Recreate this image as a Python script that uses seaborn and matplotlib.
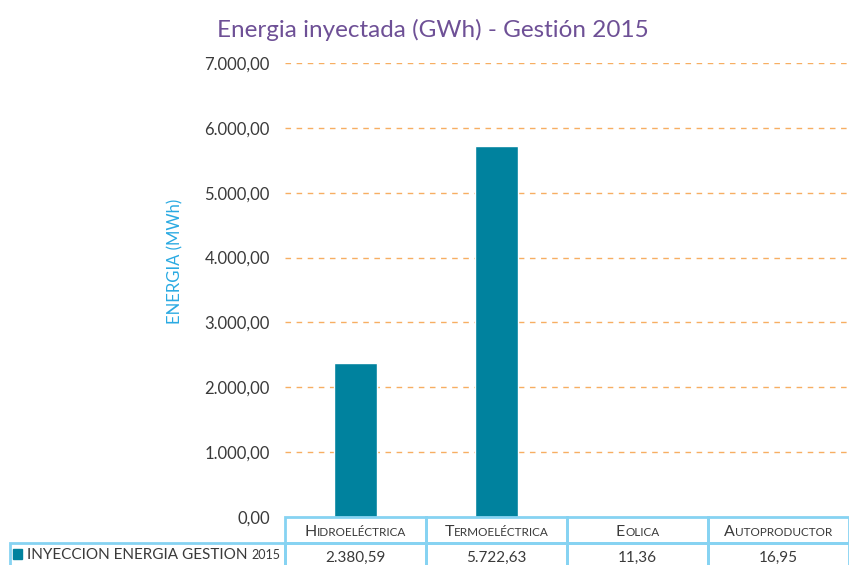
import matplotlib
matplotlib.use("Agg")
import matplotlib.pyplot as plt
import seaborn as sns
from matplotlib.patches import Rectangle

# --- datos ---
categorias = ['Hidroeléctrica', 'Termoeléctrica', 'Eolica', 'Autoproductor']
energia = [2380.59, 5722.63, 11.36, 16.95]
serie = 'INYECCION ENERGIA GESTION'
serie_anio = '2015'
titulo = 'Energia inyectada (GWh) - Gestión 2015'
ylabel = 'ENERGIA (MWh)'
yticks = [0, 1000, 2000, 3000, 4000, 5000, 6000, 7000]

TEAL = '#00829E'
PURPLE = '#6E5096'
BORDER = '#86D3F2'
GRID = '#F7AE62'
TXT = '#3A3A3A'

sns.set_theme(style='white')
plt.rcParams['font.family'] = ['Lato', 'DejaVu Sans']


def fmt(v):
    s = f'{v:,.2f}'
    return s.replace(',', 'X').replace('.', ',').replace('X', '.')


def text_width(fig, s, size):
    t = fig.text(0, 0, s, fontsize=size)
    fig.canvas.draw()
    w = t.get_window_extent().width
    t.remove()
    return w


fig = plt.figure(figsize=(8.49, 5.65), dpi=100)
ax = fig.add_axes([285 / 849, 1 - 517 / 565, 564 / 849, 454 / 565])

sns.barplot(x=categorias, y=energia, color=TEAL, width=0.31, ax=ax, saturation=1)

ax.set_ylim(0, 7000)
ax.set_xlim(-0.5, len(categorias) - 0.5)
ax.set_yticks(yticks)
ax.set_yticklabels([fmt(v) for v in yticks], color=TXT, fontsize=12)
ax.tick_params(axis='y', length=0, pad=11)
ax.set_xticks([])
ax.set_xlabel('')
ax.set_ylabel(ylabel, color='#2AAAE2', fontsize=12)
ax.yaxis.set_label_coords(-0.18, 0.562)
for s in ax.spines.values():
    s.set_visible(False)
for v in yticks[1:]:
    ax.axhline(v, color=GRID, ls=(0, (4, 4)), lw=1, zorder=0)

fig.text(433 / 849, 1 - 30 / 565, titulo, color=PURPLE, fontsize=17.5,
         ha='center', va='center')

# --- tabla de datos ---
tr = ax.get_xaxis_transform()
h1 = 26 / 454
h2 = 24 / 454
x_left = -0.5 - 275 / 141
big, small = 11.5, 8.5
for i, (c, v) in enumerate(zip(categorias, energia)):
    ax.add_patch(Rectangle((i - 0.5, -h1), 1, h1, transform=tr, fill=False,
                           ec=BORDER, lw=2, clip_on=False))
    ax.add_patch(Rectangle((i - 0.5, -h1 - h2), 1, h2, transform=tr, fill=False,
                           ec=BORDER, lw=2, clip_on=False))
    # versalitas
    w1 = text_width(fig, c[0], big)
    w2 = text_width(fig, c[1:].upper(), small)
    total = w1 + w2
    ax.annotate(c[0], xy=(i, -h1 / 2 - 0.014), xycoords=tr,
                xytext=(-total / 2, 0), textcoords='offset pixels',
                fontsize=big, color=TXT, ha='left', va='baseline',
                annotation_clip=False)
    ax.annotate(c[1:].upper(), xy=(i, -h1 / 2 - 0.014), xycoords=tr,
                xytext=(-total / 2 + w1, 0), textcoords='offset pixels',
                fontsize=small, color=TXT, ha='left', va='baseline',
                annotation_clip=False)
    ax.text(i, -h1 - h2 / 2 - 0.006, fmt(v), transform=tr, fontsize=11,
            color=TXT, ha='center', va='center', clip_on=False)

ax.add_patch(Rectangle((x_left, -h1 - h2), -0.5 - x_left, h2, transform=tr,
                       fill=False, ec=BORDER, lw=2, clip_on=False))
ax.add_patch(Rectangle((x_left + 3 / 141, -h1 - h2 + 8 / 454), 9 / 141, 10 / 454,
                       transform=tr, color=TEAL, clip_on=False))
ws = text_width(fig, serie + ' ', 11)
ax.annotate(serie + ' ', xy=(x_left + 17 / 141, -h1 - h2 + 8 / 454), xycoords=tr,
            fontsize=11, color=TXT, ha='left', va='baseline',
            annotation_clip=False)
ax.annotate(serie_anio, xy=(x_left + 17 / 141, -h1 - h2 + 8 / 454), xycoords=tr,
            xytext=(ws, 0), textcoords='offset pixels',
            fontsize=9, color=TXT, ha='left', va='baseline',
            annotation_clip=False)

fig.savefig('out.png', dpi=100)
